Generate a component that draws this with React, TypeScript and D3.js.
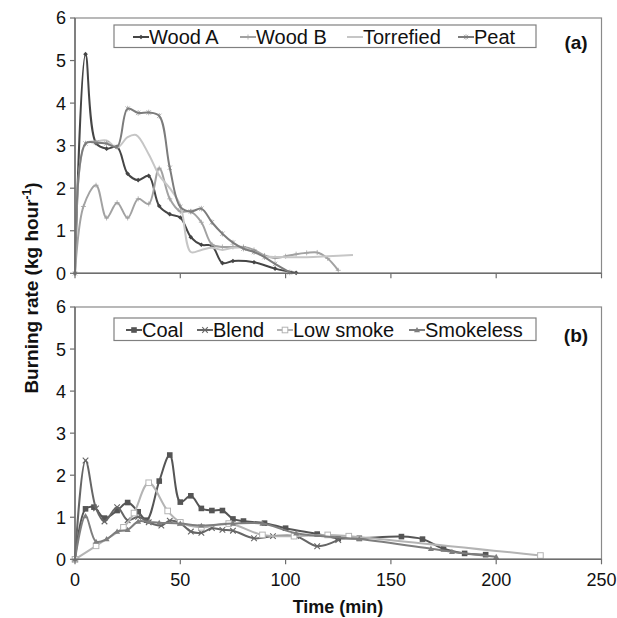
import React from "react";
import * as d3 from "d3";

const xTicks = [0, 50, 100, 150, 200, 250];
const yTicks = [0, 1, 2, 3, 4, 5, 6];

// Panel (a)
const woodA: [number, number][] = [[0,0],[5,5.15],[10,3.06],[15,2.93],[20,2.97],[25,2.34],[30,2.19],[35,2.29],[40,1.58],[45,1.39],[50,1.31],[55,0.85],[60,0.67],[65,0.65],[70,0.24],[75,0.29],[85,0.26],[95,0.11],[105,0.01]];
const woodB: [number, number][] = [[0,0],[4,1.57],[10,2.07],[15,1.3],[20,1.66],[25,1.3],[30,1.75],[35,1.63],[40,2.47],[45,1.75],[50,1.45],[55,1.45],[60,1.2],[65,0.68],[70,0.62],[75,0.62],[80,0.62],[85,0.55],[90,0.42],[95,0.36],[100,0.4],[105,0.45],[110,0.48],[115,0.49],[120,0.35],[125,0.07]];
const torrefied: [number, number][] = [[0,0],[5,3.05],[10,3.1],[15,3.12],[20,2.95],[25,3.2],[29,3.25],[35,2.8],[40,2.3],[45,2.0],[50,1.6],[55,0.5],[60,0.55],[65,0.6],[70,0.55],[75,0.6],[80,0.6],[85,0.5],[90,0.4],[100,0.38],[110,0.38],[120,0.4],[132,0.43]];
const peat: [number, number][] = [[0,0],[5,3.05],[10,3.07],[15,3.05],[20,2.97],[25,3.87],[30,3.77],[35,3.78],[40,3.7],[45,2.48],[50,1.56],[55,1.45],[60,1.52],[65,1.2],[70,0.93],[75,0.72],[80,0.58],[85,0.5],[90,0.38],[95,0.22],[102,0.02]];

// Panel (b)
const coal: [number, number][] = [[0,0],[5,1.2],[9,1.24],[14,0.98],[20,1.16],[25,1.35],[30,1.13],[34,0.93],[40,1.86],[45,2.48],[50,1.36],[55,1.51],[60,1.21],[65,1.16],[70,1.16],[75,0.96],[80,0.91],[90,0.86],[100,0.74],[115,0.6],[125,0.5],[135,0.5],[155,0.54],[165,0.48],[175,0.25],[185,0.14],[195,0.11]];
const blend: [number, number][] = [[0,0],[5,2.35],[10,1.21],[14,0.9],[20,1.24],[25,0.93],[30,1.01],[35,0.88],[41,0.8],[45,0.92],[50,0.86],[55,0.66],[60,0.63],[65,0.74],[70,0.7],[75,0.68],[85,0.5],[94,0.55],[105,0.55],[115,0.31],[125,0.46]];
const lowSmoke: [number, number][] = [[0,0],[10,0.32],[23,0.76],[28,1.1],[35,1.82],[44,1.15],[50,0.88],[60,0.76],[73,0.85],[89,0.58],[104,0.55],[120,0.58],[130,0.55],[221,0.09]];
const smokeless: [number, number][] = [[0,0],[5,1.03],[10,0.42],[15,0.48],[20,0.66],[25,0.7],[30,0.9],[35,0.89],[40,0.87],[50,0.85],[60,0.8],[75,0.85],[89,0.85],[105,0.62],[135,0.48],[169,0.25],[179,0.18],[200,0.06]];

type Marker = "dot" | "plus" | "none" | "star" | "square" | "cross" | "open" | "tri";
type Series = { name: string; data: [number, number][]; color: string; marker: Marker };

const seriesA: Series[] = [
  { name: "Wood A", data: woodA, color: "#454545", marker: "dot" },
  { name: "Wood B", data: woodB, color: "#a2a2a2", marker: "plus" },
  { name: "Torrefied", data: torrefied, color: "#c6c6c6", marker: "none" },
  { name: "Peat", data: peat, color: "#7c7c7c", marker: "star" },
];
const seriesB: Series[] = [
  { name: "Coal", data: coal, color: "#555555", marker: "square" },
  { name: "Blend", data: blend, color: "#666666", marker: "cross" },
  { name: "Low smoke", data: lowSmoke, color: "#b4b4b4", marker: "open" },
  { name: "Smokeless", data: smokeless, color: "#7e7e7e", marker: "tri" },
];

const legendA = [149, 256, 363, 474];
const legendB = [142, 213, 293, 425];

const FONT = "Liberation Sans, Arial, sans-serif";
const xScale = d3.scaleLinear().domain([0, 250]).range([75, 601.5]);
const yTop = d3.scaleLinear().domain([0, 6]).range([273.3, 18]);
const yBot = d3.scaleLinear().domain([0, 6]).range([559.3, 307]);

function MarkerShape({ x, y, m, c }: { x: number; y: number; m: Marker; c: string }) {
  switch (m) {
    case "dot":
      return <path d={`M${x},${y - 2.3}L${x + 2.3},${y}L${x},${y + 2.3}L${x - 2.3},${y}Z`} fill={c} />;
    case "plus":
      return <path d={`M${x - 2.5},${y}H${x + 2.5}M${x},${y - 2.5}V${y + 2.5}`} stroke={c} strokeWidth={0.8} />;
    case "star":
      return <path d={`M${x - 2.2},${y - 2.2}L${x + 2.2},${y + 2.2}M${x - 2.2},${y + 2.2}L${x + 2.2},${y - 2.2}M${x},${y - 2.8}V${y + 2.8}`} stroke={c} strokeWidth={0.7} opacity={0.8} />;
    case "square":
      return <rect x={x - 2.8} y={y - 2.8} width={5.6} height={5.6} fill={c} />;
    case "cross":
      return <path d={`M${x - 2.8},${y - 2.8}L${x + 2.8},${y + 2.8}M${x - 2.8},${y + 2.8}L${x + 2.8},${y - 2.8}`} stroke={c} strokeWidth={1.1} />;
    case "open":
      return <rect x={x - 2.8} y={y - 2.8} width={5.6} height={5.6} fill="#fff" stroke={c} strokeWidth={1} />;
    case "tri":
      return <path d={`M${x},${y - 3}L${x + 3},${y + 2.2}L${x - 3},${y + 2.2}Z`} fill={c} />;
    default:
      return null;
  }
}

function Panel({ series, y, legendX, label, showX, legendTop }: { series: Series[]; y: d3.ScaleLinear<number, number>; legendX: number[]; label: string; showX: boolean; legendTop: number }) {
  const line = d3.line<[number, number]>().x((d) => xScale(d[0])).y((d) => y(d[1])).curve(d3.curveCatmullRom.alpha(0.5));
  const x0 = xScale(0), x1 = xScale(250), y0 = y(0), y1 = y(6);
  return (
    <g>
      <rect x={x0} y={y1} width={x1 - x0} height={y0 - y1} fill="none" stroke="#8a8a8a" strokeWidth={1.2} />
      {series.map((s) => (
        <g key={s.name}>
          <path d={line(s.data) || ""} fill="none" stroke={s.color} strokeWidth={2} />
          {s.data.map((d, i) => (
            <MarkerShape key={i} x={xScale(d[0])} y={y(d[1])} m={s.marker} c={s.color} />
          ))}
        </g>
      ))}
      <line x1={x0} x2={x0} y1={y1} y2={y0} stroke="#6e6e6e" strokeWidth={1.5} />
      <line x1={x0} x2={x1} y1={y0} y2={y0} stroke="#6e6e6e" strokeWidth={1.5} />
      {yTicks.map((t) => (
        <g key={t}>
          <line x1={x0 - 5} x2={x0} y1={y(t)} y2={y(t)} stroke="#6e6e6e" strokeWidth={1.2} />
          <text x={x0 - 9} y={y(t)} dy="0.36em" textAnchor="end" fontSize={18} fontFamily={FONT} fill="#111">{t}</text>
        </g>
      ))}
      {xTicks.map((t) => (
        <g key={t}>
          <line x1={xScale(t)} x2={xScale(t)} y1={y0} y2={y0 + 5} stroke="#6e6e6e" strokeWidth={1.2} />
          {showX && (
            <text x={xScale(t)} y={y0 + 27} textAnchor="middle" fontSize={18} fontFamily={FONT} fill="#111">{t}</text>
          )}
        </g>
      ))}
      <rect x={114} y={legendTop} width={422} height={22.5} fill="#fff" stroke="#808080" strokeWidth={1.2} />
      {series.map((s, i) => {
        const tx = legendX[i];
        const ly = legendTop + 12;
        return (
          <g key={s.name}>
            <line x1={tx - 16} x2={tx} y1={ly} y2={ly} stroke={s.color} strokeWidth={2} />
            <MarkerShape x={tx - 8} y={ly} m={s.marker} c={s.color} />
            <text x={tx} y={legendTop + 19} fontSize={20} fontFamily={FONT} fill="#111">{s.name}</text>
          </g>
        );
      })}
      <text x={576} y={legendTop + 24} textAnchor="middle" fontSize={19} fontWeight="bold" fontFamily={FONT} fill="#111">{label}</text>
    </g>
  );
}

export default function App() {
  return (
    <svg width={617} height={618} style={{ position: "absolute", left: 0, top: 0, background: "#fff" }}>
      <rect width={617} height={618} fill="#fff" />
      <Panel series={seriesA} y={yTop} legendX={legendA} label="(a)" showX={false} legendTop={25} />
      <Panel series={seriesB} y={yBot} legendX={legendB} label="(b)" showX={true} legendTop={318} />
      <text x={338} y={613} textAnchor="middle" fontSize={18} fontWeight="bold" fontFamily={FONT} fill="#111">Time (min)</text>
      <text transform="translate(38,288) rotate(-90)" textAnchor="middle" fontSize={19} fontWeight="bold" fontFamily={FONT} fill="#111">
        Burning rate (kg hour<tspan dy="-7" fontSize={12}>-1</tspan><tspan dy="7">)</tspan>
      </text>
    </svg>
  );
}
